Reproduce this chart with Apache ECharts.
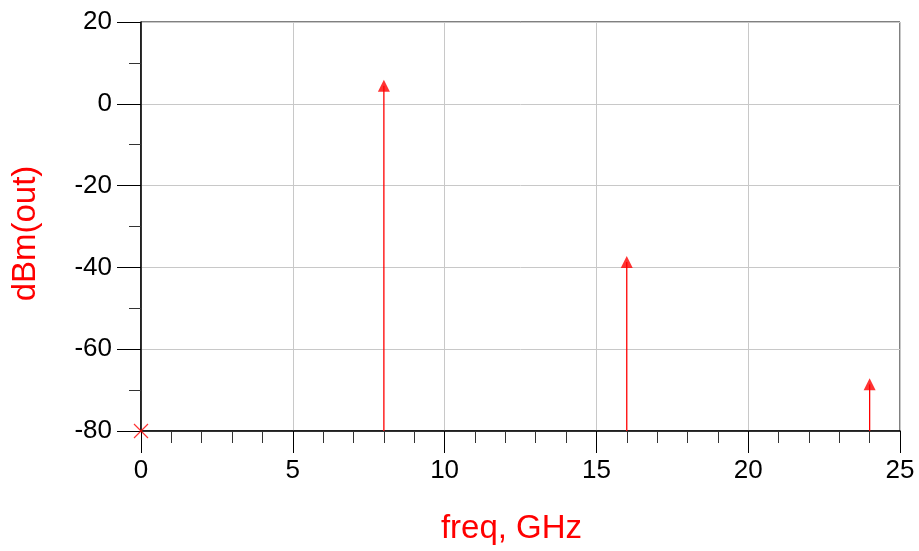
<!DOCTYPE html>
<html>
<head>
<meta charset="utf-8">
<script src="https://cdn.jsdelivr.net/npm/echarts@6/dist/echarts.min.js"></script>
<style>
  html, body { margin: 0; padding: 0; background: #fff; }
  #chart { width: 919px; height: 551px; }
</style>
</head>
<body>
<div id="chart"></div>
<script>
// spectrum tones (GHz) and their levels (dBm)
const freqs = [8, 16, 24];
const levels = [4.4, -38.7, -68.6];
// DC point sits at the bottom of the range
const dcPoint = [0, -80];

const yMin = -80;
const yMax = 20;
const xMin = 0;
const xMax = 25;

const fontFamily = 'Liberation Sans, Arial, sans-serif';

const stemData = freqs.map((f, i) => [f, levels[i]]);

const chart = echarts.init(document.getElementById('chart'), null, { renderer: 'canvas' });

chart.setOption({
  animation: false,
  grid: {
    left: 141, right: 19, top: 22, bottom: 120,
    show: true, borderColor: '#000', borderWidth: 1,
  },
  xAxis: {
    type: 'value',
    min: xMin, max: xMax, interval: 5,
    name: 'freq, GHz',
    nameLocation: 'middle',
    nameGap: 81,
    nameTextStyle: { color: '#ff0000', fontSize: 33, fontFamily, padding: [0, 18, 0, 0] },
    axisLine: { onZero: false, lineStyle: { color: '#000', width: 1.5 } },
    axisTick: { show: true, length: 22, lineStyle: { color: '#000' } },
    minorTick: { show: true, splitNumber: 5, length: 12, lineStyle: { color: '#333' } },
    axisLabel: { color: '#000', fontSize: 26, fontFamily, margin: 27 },
    splitLine: { show: true, lineStyle: { color: '#c8c8c8', width: 1 } },
  },
  yAxis: {
    type: 'value',
    min: yMin, max: yMax, interval: 20,
    name: 'dBm(out)',
    nameLocation: 'middle',
    nameGap: 99,
    nameTextStyle: { color: '#ff0000', fontSize: 33, fontFamily, padding: [0, 14, 0, 0] },
    axisLine: { show: true, lineStyle: { color: '#000', width: 1.5 } },
    axisTick: { show: true, length: 24, lineStyle: { color: '#000' } },
    minorTick: { show: true, splitNumber: 2, length: 12, lineStyle: { color: '#333' } },
    axisLabel: { color: '#000', fontSize: 26, fontFamily, margin: 29 },
    splitLine: { show: true, lineStyle: { color: '#c8c8c8', width: 1 } },
  },
  series: [
    {
      // vertical stems from the bottom of the range up to each level
      type: 'custom',
      data: stemData,
      renderItem: (params, api) => {
        const top = api.coord([api.value(0), api.value(1)]);
        const bottom = api.coord([api.value(0), yMin]);
        return {
          type: 'line',
          shape: { x1: top[0], y1: top[1], x2: bottom[0], y2: bottom[1] },
          style: { stroke: '#ff0000', lineWidth: 1.3 },
        };
      },
      z: 3,
    },
    {
      type: 'scatter',
      data: stemData,
      symbol: 'triangle',
      symbolSize: [12, 12],
      itemStyle: { color: '#ff0000' },
      z: 4,
    },
    {
      type: 'scatter',
      data: [dcPoint],
      symbol: 'path://M0,0L10,10M10,0L0,10',
      symbolSize: 14,
      itemStyle: { color: 'none', borderColor: '#ff0000', borderWidth: 1.2 },
      z: 4,
    },
  ],
});
</script>
</body>
</html>
